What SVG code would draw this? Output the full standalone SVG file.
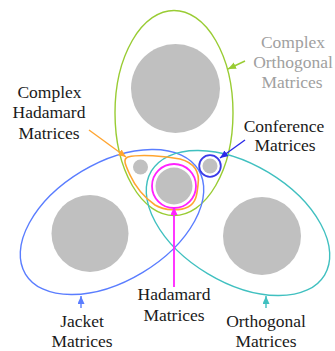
<svg xmlns="http://www.w3.org/2000/svg" width="335" height="351" viewBox="0 0 335 351">
<defs>
<marker id="mGreen" markerUnits="userSpaceOnUse" markerWidth="9" markerHeight="8" refX="8" refY="3.5" orient="auto"><path d="M0,0 L8,3.5 L0,7 Z" fill="#99cc33"/></marker>
<marker id="mConf" markerUnits="userSpaceOnUse" markerWidth="9" markerHeight="8" refX="8" refY="3.5" orient="auto"><path d="M0,0 L8,3.5 L0,7 Z" fill="#2a2ae8"/></marker>
<marker id="mOrange" markerUnits="userSpaceOnUse" markerWidth="9" markerHeight="8" refX="8" refY="3.5" orient="auto"><path d="M0,0 L8,3.5 L0,7 Z" fill="#ffa531"/></marker>
<marker id="mMag" markerUnits="userSpaceOnUse" markerWidth="9" markerHeight="8" refX="8" refY="3.5" orient="auto"><path d="M0,0 L8,3.5 L0,7 Z" fill="#ff22ff"/></marker>
<marker id="mBlue" markerUnits="userSpaceOnUse" markerWidth="9" markerHeight="8" refX="8" refY="3.5" orient="auto"><path d="M0,0 L8,3.5 L0,7 Z" fill="#5a7dff"/></marker>
<marker id="mTeal" markerUnits="userSpaceOnUse" markerWidth="9" markerHeight="8" refX="8" refY="3.5" orient="auto"><path d="M0,0 L8,3.5 L0,7 Z" fill="#40c0c0"/></marker>
</defs>
<g id="complex-orthogonal">
<circle fill="#c0c0c0" cx="175.5" cy="88.5" r="44.5"/>
<ellipse fill="none" cx="174" cy="113" rx="59" ry="102.5" stroke="#99cc33" stroke-width="1.4"/>
<text x="293" y="48" font-family="Times New Roman, Liberation Serif, serif" style="font-family:'Liberation Serif','Times New Roman',serif" font-size="17.5" text-anchor="middle" fill="#a0a0a0">Complex</text>
<text x="293" y="68" font-family="Times New Roman, Liberation Serif, serif" style="font-family:'Liberation Serif','Times New Roman',serif" font-size="17.5" text-anchor="middle" fill="#a0a0a0">Orthogonal</text>
<text x="292" y="88" font-family="Times New Roman, Liberation Serif, serif" style="font-family:'Liberation Serif','Times New Roman',serif" font-size="17.5" text-anchor="middle" fill="#a0a0a0">Matrices</text>
</g>
<g id="jacket">
<circle fill="#c0c0c0" cx="90" cy="233.5" r="38.5"/>
<ellipse fill="none" cx="112" cy="222" rx="101" ry="59" transform="rotate(-31 112 222)" stroke="#5a7dff" stroke-width="1.4"/>
<text x="82" y="327" font-family="Times New Roman, Liberation Serif, serif" style="font-family:'Liberation Serif','Times New Roman',serif" font-size="17.5" text-anchor="middle" fill="#1a1a1a">Jacket</text>
<text x="82" y="347" font-family="Times New Roman, Liberation Serif, serif" style="font-family:'Liberation Serif','Times New Roman',serif" font-size="17.5" text-anchor="middle" fill="#1a1a1a">Matrices</text>
</g>
<g id="orthogonal">
<circle fill="#c0c0c0" cx="262" cy="236" r="39"/>
<ellipse fill="none" cx="238" cy="223" rx="101" ry="59" transform="rotate(31 238 223)" stroke="#40c0c0" stroke-width="1.4"/>
<text x="266" y="327" font-family="Times New Roman, Liberation Serif, serif" style="font-family:'Liberation Serif','Times New Roman',serif" font-size="17.5" text-anchor="middle" fill="#1a1a1a">Orthogonal</text>
<text x="266" y="347" font-family="Times New Roman, Liberation Serif, serif" style="font-family:'Liberation Serif','Times New Roman',serif" font-size="17.5" text-anchor="middle" fill="#1a1a1a">Matrices</text>
</g>
<g id="complex-hadamard">
<circle fill="#c0c0c0" cx="140.5" cy="167" r="7.5"/>
<path fill="none" d="M128,157 C140,154 165,156 180,159 C195,163 200,172 198,185 C197,195 196,203 188,207 C180,211 165,211 155,205 C145,198 136,188 130,175 C126,166 122,159 128,157 Z" stroke="#ffa531" stroke-width="1.6"/>
<text x="49.5" y="98" font-family="Times New Roman, Liberation Serif, serif" style="font-family:'Liberation Serif','Times New Roman',serif" font-size="17.5" text-anchor="middle" fill="#1a1a1a">Complex</text>
<text x="49" y="118" font-family="Times New Roman, Liberation Serif, serif" style="font-family:'Liberation Serif','Times New Roman',serif" font-size="17.5" text-anchor="middle" fill="#1a1a1a">Hadamard</text>
<text x="49" y="139" font-family="Times New Roman, Liberation Serif, serif" style="font-family:'Liberation Serif','Times New Roman',serif" font-size="17.5" text-anchor="middle" fill="#1a1a1a">Matrices</text>
</g>
<g id="hadamard">
<circle fill="#c0c0c0" cx="174" cy="186" r="18.5"/>
<circle fill="none" cx="174" cy="186" r="22" stroke="#ff22ff" stroke-width="1.8"/>
<text x="174" y="300" font-family="Times New Roman, Liberation Serif, serif" style="font-family:'Liberation Serif','Times New Roman',serif" font-size="17.5" text-anchor="middle" fill="#1a1a1a">Hadamard</text>
<text x="174" y="321" font-family="Times New Roman, Liberation Serif, serif" style="font-family:'Liberation Serif','Times New Roman',serif" font-size="17.5" text-anchor="middle" fill="#1a1a1a">Matrices</text>
</g>
<g id="conference">
<circle fill="#c0c0c0" cx="210" cy="166" r="7.5"/>
<circle fill="none" cx="210" cy="166" r="10.8" stroke="#3b3be8" stroke-width="1.8"/>
<text x="284" y="132" font-family="Times New Roman, Liberation Serif, serif" style="font-family:'Liberation Serif','Times New Roman',serif" font-size="17.5" text-anchor="middle" fill="#1a1a1a">Conference</text>
<text x="285" y="151" font-family="Times New Roman, Liberation Serif, serif" style="font-family:'Liberation Serif','Times New Roman',serif" font-size="17.5" text-anchor="middle" fill="#1a1a1a">Matrices</text>
</g>
<g id="connectors" fill="none" stroke-width="1.4">
<line x1="245" y1="61" x2="228" y2="69" stroke="#99cc33" marker-end="url(#mGreen)"/>
<line x1="245" y1="140" x2="220" y2="158" stroke="#2a2ae8" marker-end="url(#mConf)"/>
<line x1="89" y1="130" x2="126" y2="157" stroke="#ffa531" marker-end="url(#mOrange)"/>
<line x1="174" y1="287" x2="174" y2="207" stroke="#ff22ff" stroke-width="1.8" marker-end="url(#mMag)"/>
<line x1="81" y1="308" x2="81" y2="296" stroke="#5a7dff" marker-end="url(#mBlue)"/>
<line x1="266" y1="308" x2="266" y2="296" stroke="#40c0c0" marker-end="url(#mTeal)"/>
</g>
</svg>
